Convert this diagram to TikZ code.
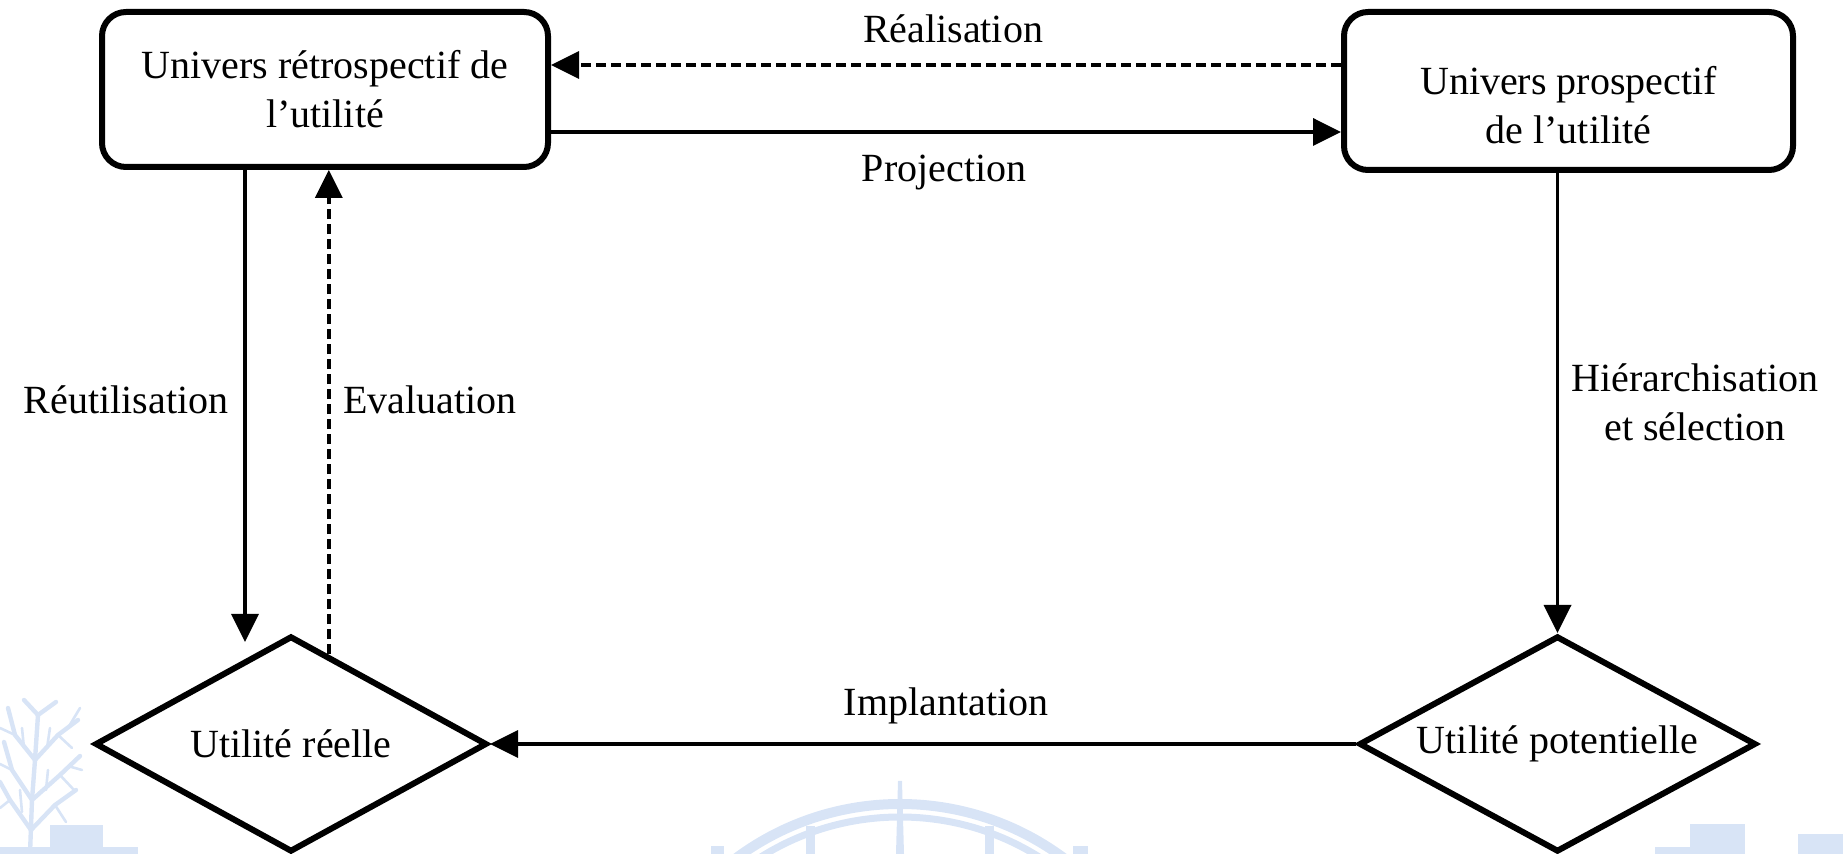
\documentclass[tikz,border=0pt]{standalone}
\usepackage{fontspec}
\setmainfont{Liberation Serif}
\usetikzlibrary{shapes.geometric,arrows.meta,calc}
\definecolor{wm}{RGB}{216,228,246}
\begin{document}
\begin{tikzpicture}[x=0.5pt,y=-0.5pt,
  every node/.style={font=\fontsize{20}{24.5}\selectfont},
  ubox/.style={draw,fill=white,line width=3pt,rounded corners=12pt,align=center,inner sep=0pt},
  udia/.style={draw,fill=white,diamond,line width=3pt,inner sep=0pt,aspect=2,minimum height=108pt},
  lbl/.style={inner sep=0pt,align=center},
  arr/.style={line width=1.8pt,-{Triangle[length=14pt,width=13.5pt]}},
  darr/.style={arr,dash pattern=on 5pt off 2.5pt},
  wmline/.style={draw=wm,line width=2.2pt,line cap=round},
  wmtwig/.style={draw=wm,line width=1.3pt,line cap=round}]
\useasboundingbox (0,0) rectangle (1843,854);
% faint watermark
\begin{scope}
  \clip (0,0) rectangle (1843,854);
  % left tree and blocks
  \fill[wm] (50,825) rectangle (103,854);
  \fill[wm] (0,847) rectangle (138,854);
  \draw[wmline] (30,854) -- (32,800) -- (35,760) -- (38,715);
  \draw[wmline] (31,830) -- (10,800) -- (0,782);
  \draw[wmline] (31,830) -- (55,805) -- (76,790);
  \draw[wmline] (32,800) -- (12,770) -- (4,742);
  \draw[wmline] (32,800) -- (60,775) -- (80,756);
  \draw[wmline] (35,760) -- (15,735) -- (8,708);
  \draw[wmline] (35,760) -- (58,735) -- (78,720);
  \draw[wmline] (38,715) -- (24,700);
  \draw[wmline] (38,715) -- (56,702);
  \draw[wmtwig] (10,800) -- (0,808);
  \draw[wmtwig] (55,805) -- (66,822);
  \draw[wmtwig] (12,770) -- (0,764);
  \draw[wmtwig] (60,775) -- (74,790);
  \draw[wmtwig] (15,735) -- (0,728);
  \draw[wmtwig] (58,735) -- (72,748);
  \draw[wmtwig] (46,790) -- (48,770);
  \draw[wmtwig] (22,812) -- (20,790);
  \draw[wmtwig] (47,748) -- (50,728);
  \draw[wmtwig] (24,748) -- (22,728);
  \draw[wmtwig] (68,766) -- (82,770);
  \draw[wmtwig] (68,728) -- (80,708);
  % globe
  \draw[wm,line width=5pt] (900,1079) circle[radius=275];
  \draw[wm,line width=3.5pt] (900,1079) circle[radius=262];
  \fill[wm] (898,781) -- (902,781) -- (904,854) -- (896,854) -- cycle;
  \draw[wm,line width=4.5pt] (810,826) -- (810,854);
  \draw[wm,line width=4.5pt] (989,826) -- (989,854);
  \fill[wm] (711,846) rectangle (724,854);
  \fill[wm] (1073,846) rectangle (1088,854);
  % right blocks
  \fill[wm] (1690,824) rectangle (1745,854);
  \fill[wm] (1655,847) rectangle (1690,854);
  \fill[wm] (1798,834) rectangle (1843,854);
\end{scope}
% nodes
\node[ubox,minimum width=223pt,minimum height=77.5pt] (lb) at (325,89.5) {Univers rétrospectif de\\l’utilité};
\node[ubox,minimum width=224.5pt,minimum height=79pt,
  label={[lbl,yshift=-7pt]center:{Univers prospectif\\de l’utilité}}] (rb) at (1568.5,91) {};
\node[udia,minimum width=196pt] (ld) at (291,744) {Utilité réelle};
\node[udia,minimum width=198.5pt] (rd) at (1557.5,744) {Utilité potentielle};
% connectors
\coordinate (re) at ($(rb.west)+(0,-26)$);
\draw[darr] (re) -- (re -| lb.east);
\coordinate (pr) at ($(lb.east)+(0,42.5)$);
\draw[arr] (pr) -- (pr -| rb.west);
\coordinate (ru) at ($(lb.south)+(-80,0)$);
\draw[arr] (ru) -- ($(ru |- ld.north)+(0,9)$);
\coordinate (ev) at ($(ld.north)!0.19!(ld.east)$);
\draw[darr] (ev) -- (ev |- lb.south);
\draw[arr] (rd.north |- rb.south) -- (rd.north);
\draw[arr] (rd.west) -- (ld.east);
% labels
\node[lbl,anchor=base] (lre) at (953,43) {Réalisation};
\node[lbl,anchor=base] (lpr) at (944,182) {Projection};
\node[lbl,anchor=base] (lru) at (126,414) {Réutilisation};
\node[lbl,anchor=base] (lev) at (430,414) {Evaluation};
\node[lbl] (lhi) at (1695,402) {Hiérarchisation\\et sélection};
\node[lbl,anchor=base] (lim) at (946,716) {Implantation};
\end{tikzpicture}
\end{document}
